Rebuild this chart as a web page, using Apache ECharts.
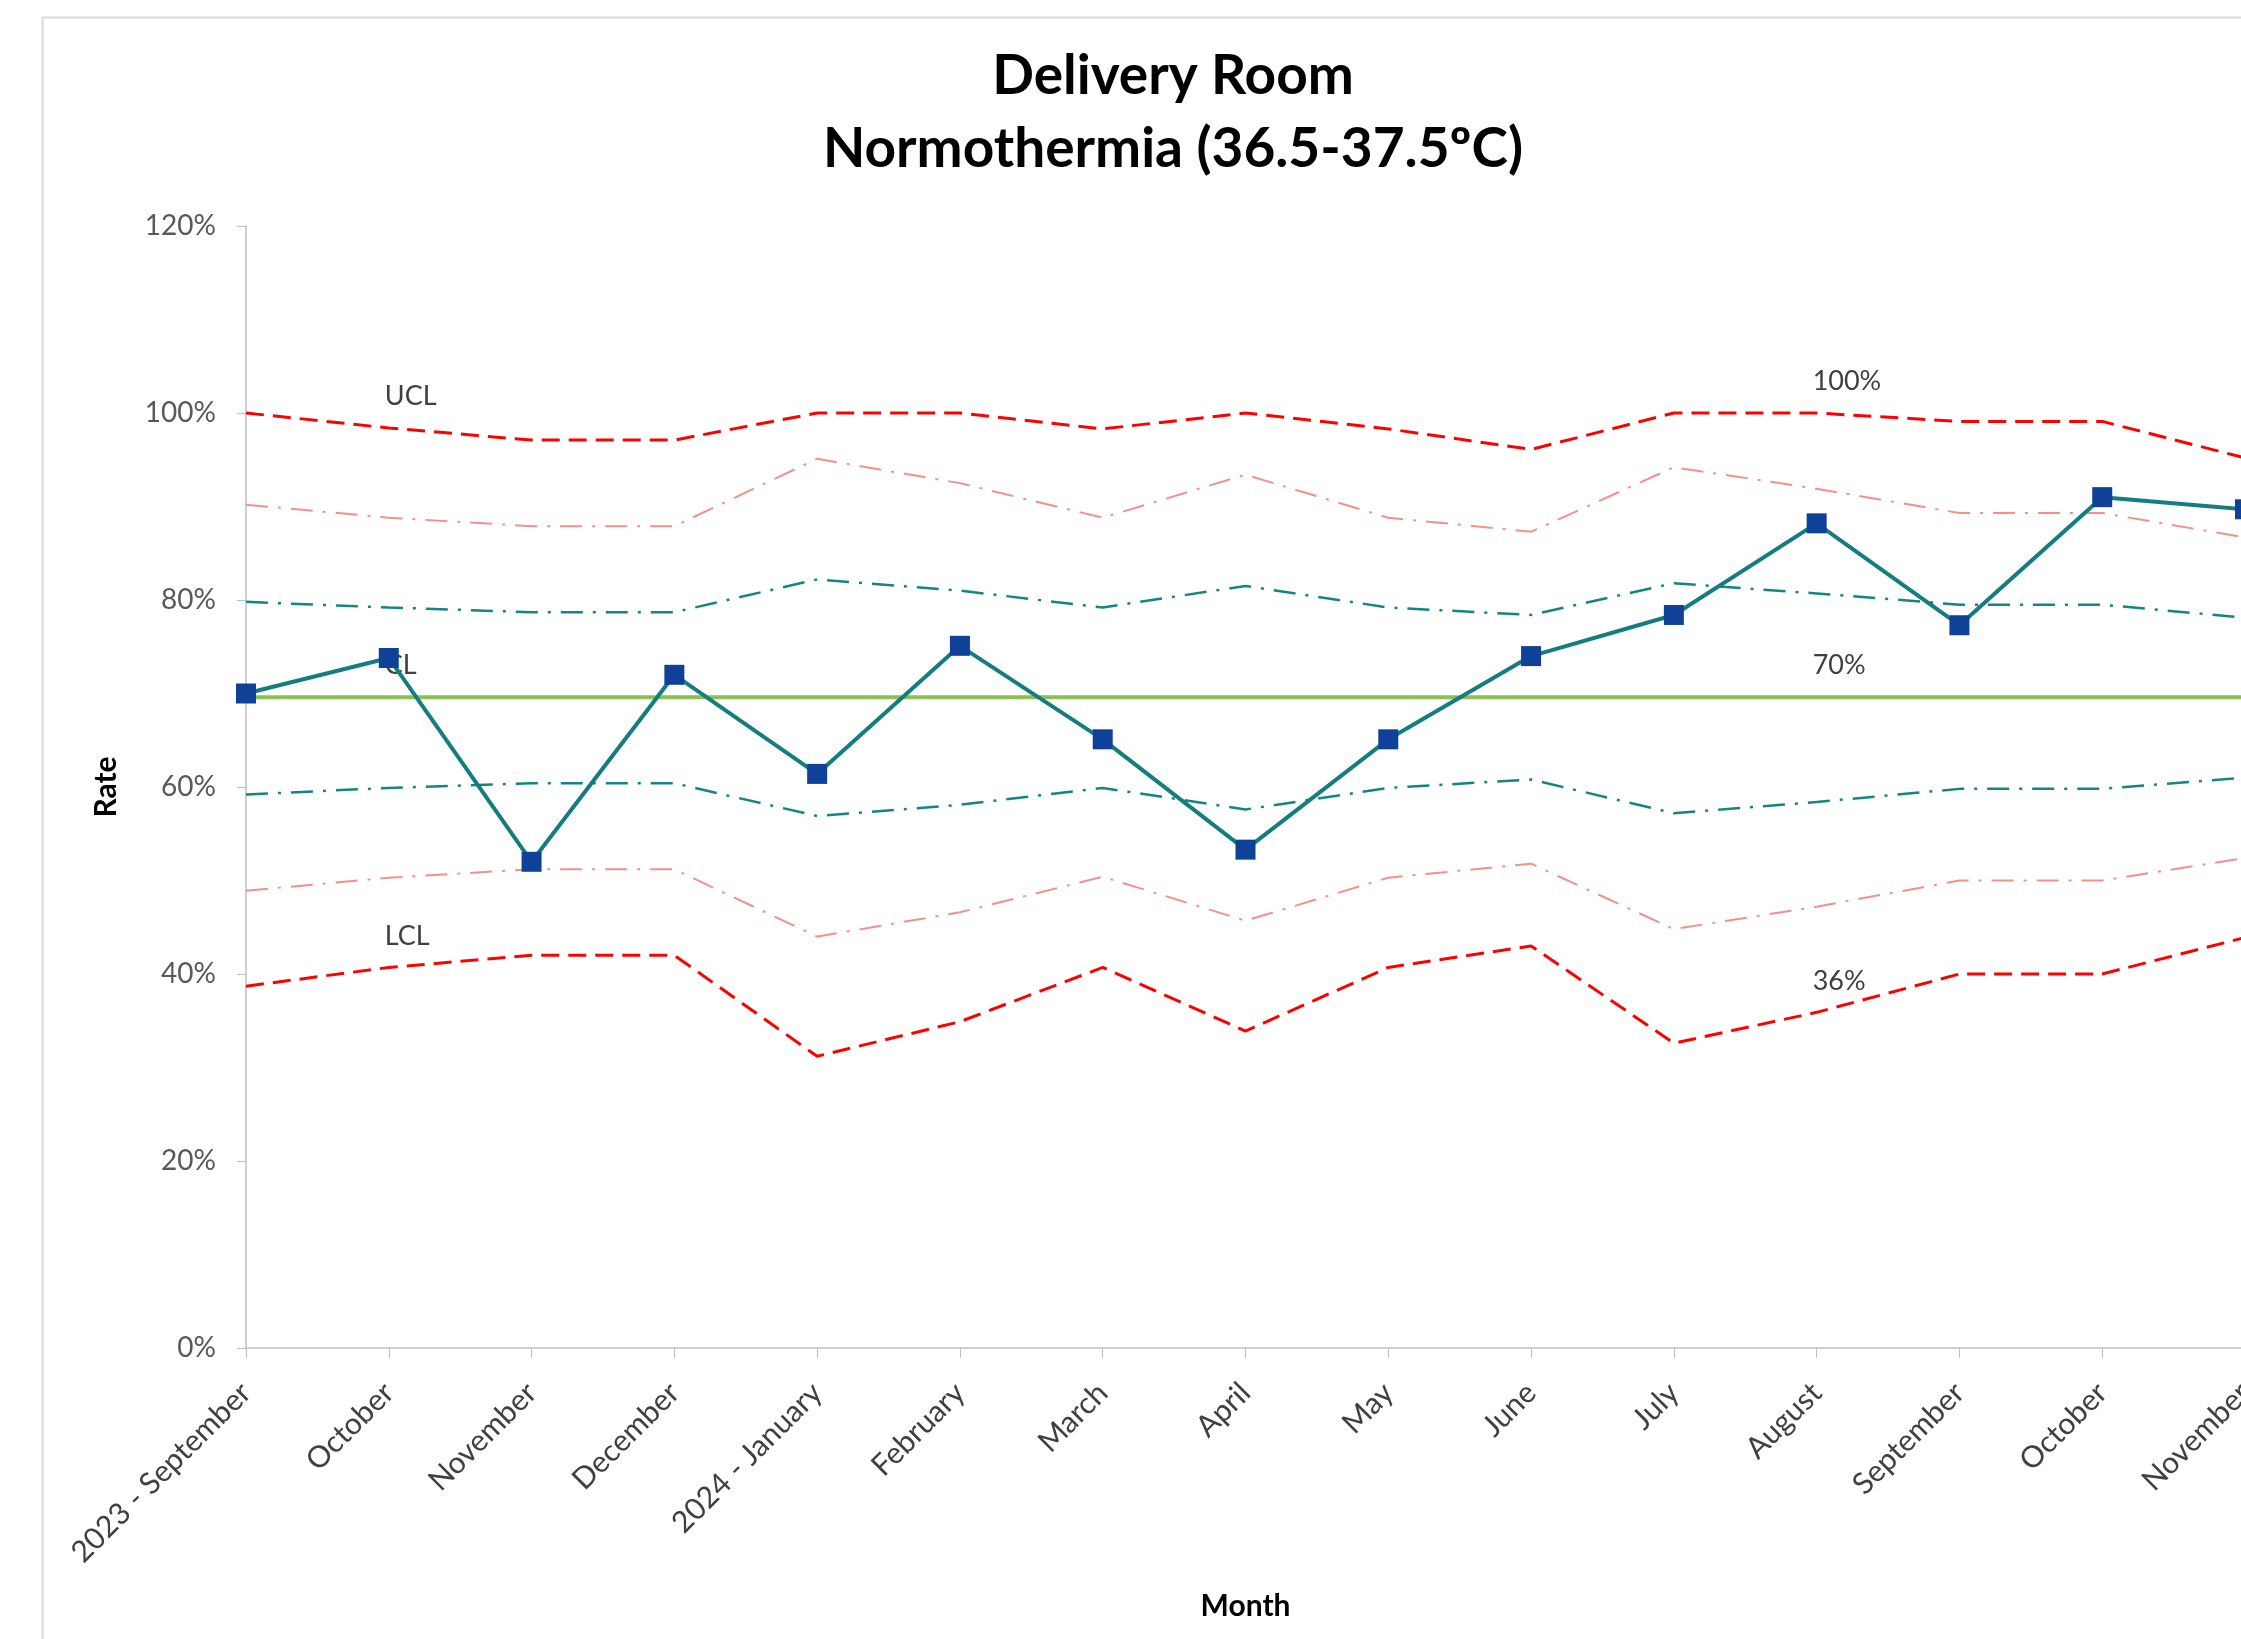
<!DOCTYPE html>
<html>
<head>
<meta charset="utf-8">
<title>Delivery Room Normothermia</title>
<script src="https://cdn.jsdelivr.net/npm/echarts@6/dist/echarts.min.js"></script>
<style>
    html, body { margin: 0; padding: 0; background: #fff; overflow: hidden; }
    #chart { width: 2241px; height: 1639px; }
</style>
</head>
<body>
<div id="chart"></div>
<script>
    // months
    var months = ["2023 - September", "October", "November", "December", "2024 - January",
        "February", "March", "April", "May", "June", "July", "August", "September",
        "October", "November"];

    // observed rate (blue squares)
    var rate = [0.70, 0.738, 0.52, 0.72, 0.614, 0.751, 0.651, 0.533, 0.651, 0.740,
        0.784, 0.882, 0.773, 0.910, 0.897];

    // centre line
    var cl = [0.696, 0.696, 0.696, 0.696, 0.696, 0.696, 0.696, 0.696, 0.696, 0.696,
        0.696, 0.696, 0.696, 0.696, 0.696];

    // control limits
    var ucl = [1.0, 0.984, 0.971, 0.971, 1.0, 1.0, 0.983, 1.0, 0.983, 0.961,
        1.0, 1.0, 0.991, 0.991, 0.952];
    var lcl = [0.387, 0.407, 0.420, 0.420, 0.312, 0.349, 0.407, 0.339, 0.407, 0.430,
        0.326, 0.359, 0.400, 0.400, 0.439];

    // 2 sigma
    var upper2 = [0.902, 0.888, 0.879, 0.879, 0.951, 0.925, 0.888, 0.934, 0.888, 0.873,
        0.942, 0.919, 0.893, 0.893, 0.867];
    var lower2 = [0.489, 0.503, 0.512, 0.512, 0.440, 0.466, 0.504, 0.457, 0.503, 0.518,
        0.448, 0.472, 0.500, 0.500, 0.524];

    // 1 sigma
    var upper1 = [0.798, 0.792, 0.787, 0.787, 0.822, 0.810, 0.792, 0.815, 0.792, 0.784,
        0.818, 0.807, 0.795, 0.795, 0.781];
    var lower1 = [0.592, 0.599, 0.604, 0.604, 0.569, 0.581, 0.599, 0.576, 0.599, 0.608,
        0.572, 0.584, 0.598, 0.598, 0.610];

    var yTicks = [0, 0.2, 0.4, 0.6, 0.8, 1.0, 1.2];

    var NAME_IDX = 1;   // series name shown over October
    var VALUE_IDX = 11; // value shown over August

    var fontFamily = "Lato, 'Open Sans', sans-serif";

    var labelStyle = {
        show: true,
        position: "top",
        align: "left",
        offset: [-4, -12],
        fontFamily: fontFamily,
        fontSize: 27,
        color: "#404040"
    };

    // attach the Excel style data labels
    function withLabels(values, name) {
        return values.map(function (v, i) {
            if (i === NAME_IDX) {
                return { value: v, label: Object.assign({}, labelStyle, { formatter: name }) };
            }
            if (i === VALUE_IDX && name) {
                return {
                    value: v,
                    label: Object.assign({}, labelStyle, { formatter: Math.round(v * 100) + "%" })
                };
            }
            return v;
        });
    }

    function limitLine(name, values, color, width, dash, labelName) {
        return {
            name: name,
            type: "line",
            data: labelName ? withLabels(values, labelName) : values,
            symbol: "circle",
            symbolSize: 2,
            showSymbol: !!labelName,
            itemStyle: { color: "transparent" },
            lineStyle: { color: color, width: width, type: dash },
            label: { show: false },
            silent: true,
            z: 2
        };
    }

    var chart = echarts.init(document.getElementById("chart"));

    var option = {
        backgroundColor: "#fff",
        animation: false,
        title: {
            text: "Delivery Room\nNormothermia (36.5-37.5ºC)",
            left: 1173,
            textAlign: "center",
            top: 40,
            padding: 0,
            textStyle: {
                fontFamily: fontFamily,
                fontSize: 55,
                fontWeight: "bold",
                color: "#000",
                lineHeight: 73
            }
        },
        graphic: [
            {
                type: "rect",
                left: 40,
                top: 15,
                shape: { width: 2300, height: 1700 },
                style: { fill: "none", stroke: "#d9d9d9", lineWidth: 2 },
                silent: true
            }
        ],
        grid: {
            left: 246,
            width: 1999,
            top: 226,
            bottom: 291,
            // the last month sits on the right edge, like the original
            outerBoundsMode: "none"
        },
        xAxis: {
            type: "category",
            data: months,
            boundaryGap: false,
            name: "Month",
            nameLocation: "middle",
            nameGap: 243,
            nameTextStyle: {
                fontFamily: fontFamily,
                fontSize: 30,
                fontWeight: "bold",
                color: "#000"
            },
            axisLine: { lineStyle: { color: "#bfbfbf", width: 1.5 } },
            axisTick: { show: true, alignWithLabel: true, length: 10, lineStyle: { color: "#bfbfbf" } },
            axisLabel: {
                rotate: 45,
                margin: 40,
                interval: 0,
                fontFamily: fontFamily,
                fontSize: 30,
                color: "#404040"
            }
        },
        yAxis: {
            type: "value",
            min: yTicks[0],
            max: yTicks[yTicks.length - 1],
            interval: 0.2,
            name: "Rate",
            nameLocation: "middle",
            nameGap: 125,
            nameTextStyle: {
                fontFamily: fontFamily,
                fontSize: 30,
                fontWeight: "bold",
                color: "#000"
            },
            splitLine: { show: false },
            axisLine: { show: true, lineStyle: { color: "#bfbfbf", width: 1.5 } },
            axisTick: { show: true, length: 9, lineStyle: { color: "#bfbfbf" } },
            axisLabel: {
                margin: 30,
                fontFamily: fontFamily,
                fontSize: 28,
                color: "#595959",
                formatter: function (v) {
                    return Math.round(v * 100) + "%";
                }
            }
        },
        series: [
            limitLine("UCL", ucl, "#ff0000", 3, [18, 9], "UCL"),
            limitLine("LCL", lcl, "#ff0000", 3, [18, 9], "LCL"),
            limitLine("+2 Sigma", upper2, "#f4908c", 2, [22, 10, 3, 10]),
            limitLine("-2 Sigma", lower2, "#f4908c", 2, [22, 10, 3, 10]),
            limitLine("+1 Sigma", upper1, "#148484", 2.5, [22, 10, 3, 10]),
            limitLine("-1 Sigma", lower1, "#148484", 2.5, [22, 10, 3, 10]),
            Object.assign(limitLine("CL", cl, "#8cc152", 4, "solid", "CL"), { z: 3 }),
            {
                name: "Rate",
                type: "line",
                data: rate,
                symbol: "rect",
                symbolSize: 20,
                itemStyle: { color: "#0f4198" },
                lineStyle: { color: "#137d80", width: 4 },
                silent: true,
                z: 5
            }
        ]
    };

    chart.setOption(option);
</script>
</body>
</html>
